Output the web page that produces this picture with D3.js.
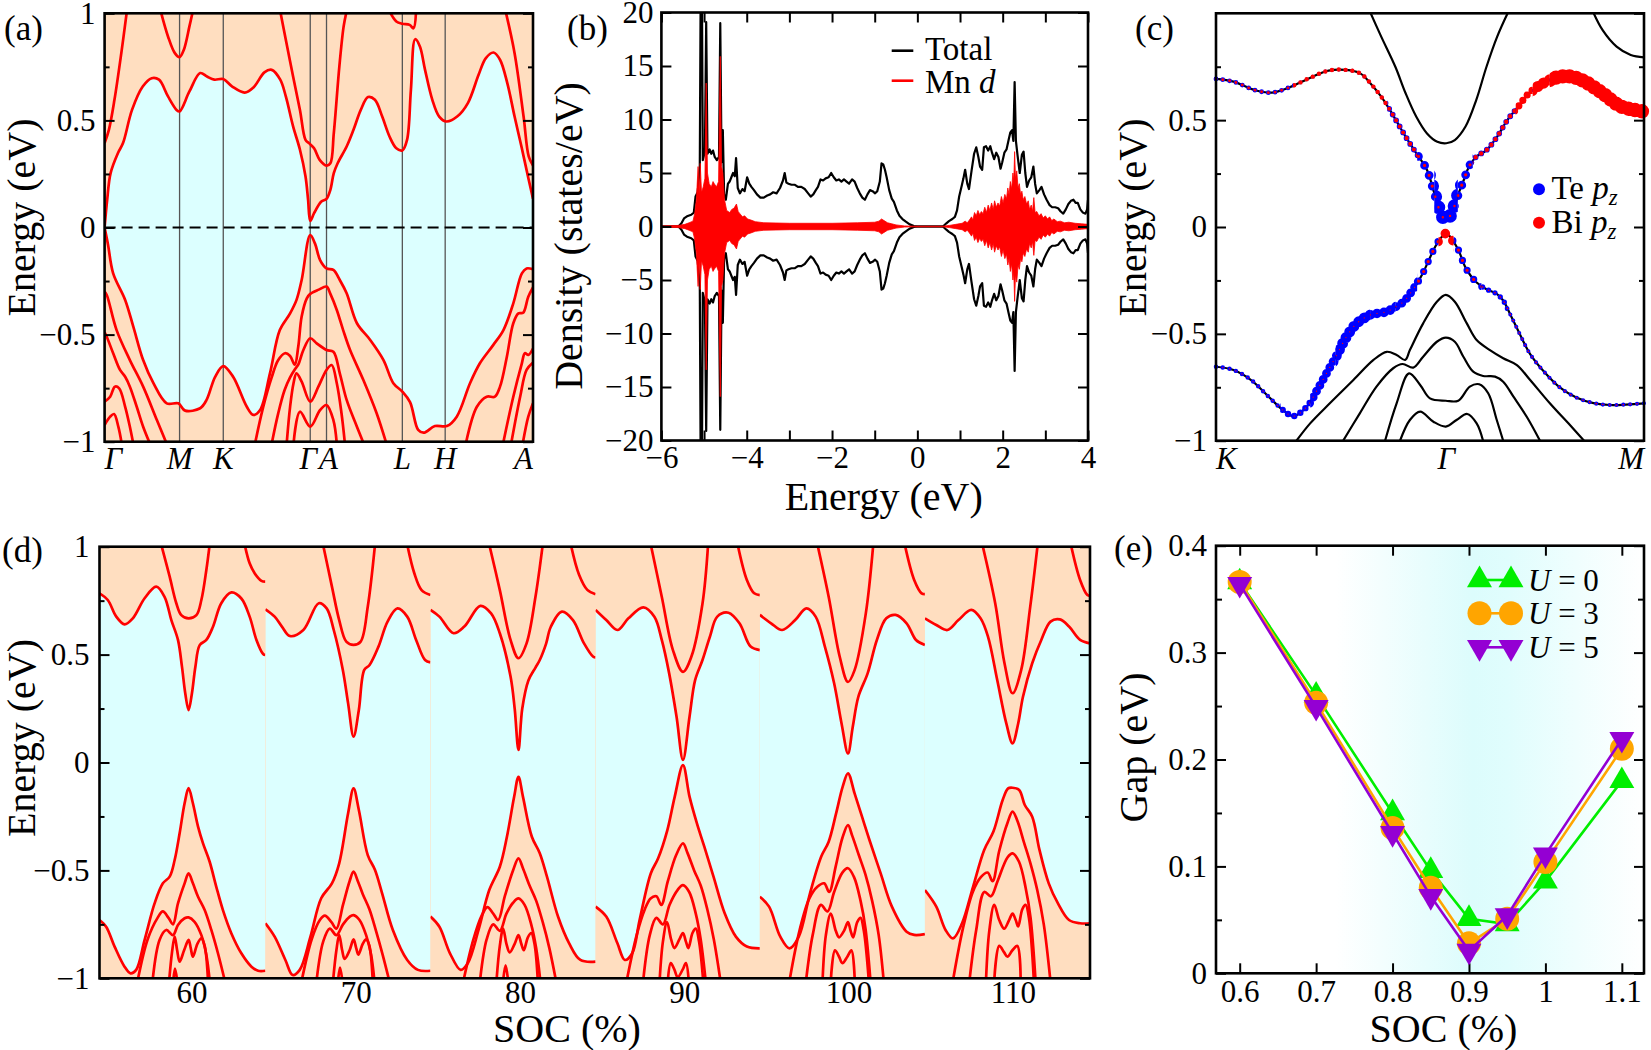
<!DOCTYPE html>
<html><head><meta charset="utf-8">
<script src="https://cdn.jsdelivr.net/npm/d3@7"></script>
<style>
body{margin:0;background:#fff;}
svg{display:block;}
svg text{font-family:"Liberation Serif","DejaVu Serif",serif;}
</style></head><body>
<svg id="fig" width="1651" height="1050"></svg>
<script>
// ================= DATA =================
// (a) band structure, k along path (fraction), E in eV
const kTicksA = [0, 0.175, 0.277, 0.480, 0.518, 0.695, 0.795, 1.0];
const kLabelsA = ["Γ","M","K","Γ","A","L","H","A"];
const aCond1 = [[0,0],[0.006,0.129],[0.014,0.254],[0.031,0.347],[0.043,0.394],[0.064,0.549],[0.089,0.658],[0.110,0.697],[0.127,0.690],[0.148,0.612],[0.168,0.549],[0.175,0.542],[0.198,0.635],[0.223,0.721],[0.239,0.705],[0.256,0.690],[0.277,0.693],[0.298,0.658],[0.327,0.630],[0.348,0.655],[0.373,0.724],[0.390,0.736],[0.410,0.690],[0.423,0.612],[0.440,0.472],[0.456,0.363],[0.469,0.238],[0.475,0.129],[0.480,0.031],[0.489,0.067],[0.506,0.121],[0.518,0.134],[0.527,0.176],[0.535,0.254],[0.544,0.300],[0.565,0.378],[0.581,0.456],[0.598,0.549],[0.615,0.609],[0.631,0.596],[0.648,0.518],[0.665,0.425],[0.681,0.370],[0.695,0.360],[0.706,0.409],[0.715,0.643],[0.725,0.879],[0.736,0.845],[0.748,0.736],[0.765,0.596],[0.781,0.518],[0.798,0.495],[0.823,0.518],[0.848,0.581],[0.873,0.713],[0.890,0.791],[0.908,0.817],[0.923,0.783],[0.940,0.674],[0.957,0.518],[0.973,0.378],[0.990,0.223],[1.0,0.134]];
const aCond2G = [[0,0.394],[0.010,0.456],[0.023,0.596],[0.039,0.814],[0.052,1.01]];
const aCond2M = [[0.131,1.01],[0.148,0.892],[0.164,0.814],[0.175,0.795],[0.185,0.830],[0.198,0.939],[0.206,1.01]];
const aCond2GA = [[0.410,1.01],[0.423,0.877],[0.440,0.705],[0.456,0.549],[0.469,0.409],[0.477,0.394],[0.489,0.370],[0.502,0.316],[0.518,0.289],[0.527,0.300],[0.535,0.440],[0.548,0.752],[0.558,0.939],[0.565,1.01]];
const aCond2L = [[0.665,1.01],[0.681,0.962],[0.695,0.951],[0.712,0.946],[0.721,0.93],[0.727,1.01]];
const aCond2A = [[0.936,1.01],[0.957,0.814],[0.978,0.518],[0.990,0.332],[1.0,0.289]];
const aVal1 = [[0,0],[0.008,-0.08],[0.020,-0.214],[0.048,-0.338],[0.067,-0.463],[0.090,-0.619],[0.114,-0.727],[0.145,-0.821],[0.172,-0.821],[0.188,-0.855],[0.223,-0.844],[0.238,-0.805],[0.258,-0.697],[0.277,-0.647],[0.300,-0.697],[0.332,-0.837],[0.347,-0.875],[0.363,-0.852],[0.386,-0.681],[0.409,-0.479],[0.433,-0.401],[0.448,-0.338],[0.460,-0.245],[0.480,-0.035],[0.491,-0.074],[0.503,-0.152],[0.518,-0.191],[0.534,-0.198],[0.549,-0.245],[0.565,-0.307],[0.589,-0.447],[0.620,-0.525],[0.651,-0.619],[0.674,-0.727],[0.695,-0.766],[0.713,-0.815],[0.732,-0.945],[0.745,-0.958],[0.771,-0.927],[0.799,-0.927],[0.822,-0.883],[0.853,-0.727],[0.876,-0.634],[0.907,-0.549],[0.931,-0.479],[0.954,-0.354],[0.974,-0.214],[0.985,-0.191],[1.0,-0.195]];
const aVal2L = [[0,-0.30],[0.005,-0.315],[0.028,-0.479],[0.059,-0.619],[0.090,-0.743],[0.122,-0.899],[0.145,-1.01]];
const aVal3L = [[0,-0.49],[0.005,-0.510],[0.020,-0.587],[0.036,-0.665],[0.048,-0.697],[0.059,-0.743],[0.075,-0.837],[0.090,-0.930],[0.106,-1.01]];
const aVal4L = [[0,-0.813],[0.013,-0.790],[0.024,-0.743],[0.034,-0.751],[0.048,-0.837],[0.059,-0.930],[0.067,-1.01]];
const aVal5L = [[0,-0.922],[0.013,-0.883],[0.022,-0.871],[0.032,-0.930],[0.040,-1.01]];
const aVal2G = [[0.351,-1.01],[0.37,-0.84],[0.39,-0.70],[0.405,-0.62],[0.421,-0.587],[0.433,-0.60],[0.444,-0.64],[0.452,-0.557],[0.460,-0.416],[0.472,-0.331],[0.480,-0.31],[0.50,-0.29],[0.518,-0.276],[0.527,-0.31],[0.542,-0.385],[0.557,-0.48],[0.573,-0.572],[0.604,-0.712],[0.635,-0.867],[0.658,-1.01]];
const aVal3G = [[0.390,-1.01],[0.405,-0.87],[0.42,-0.76],[0.433,-0.70],[0.445,-0.66],[0.452,-0.64],[0.464,-0.572],[0.480,-0.517],[0.495,-0.541],[0.518,-0.572],[0.534,-0.580],[0.549,-0.681],[0.565,-0.805],[0.589,-0.93],[0.605,-1.01]];
const aVal4G = [[0.425,-1.01],[0.433,-0.837],[0.441,-0.727],[0.448,-0.681],[0.46,-0.72],[0.480,-0.813],[0.499,-0.743],[0.518,-0.665],[0.530,-0.642],[0.542,-0.727],[0.553,-0.867],[0.561,-1.01]];
const aVal5G = [[0.441,-1.01],[0.456,-0.860],[0.480,-0.930],[0.503,-0.852],[0.518,-0.829],[0.534,-0.899],[0.542,-1.01]];
const aVal2R = [[0.842,-1.02],[0.869,-0.837],[0.892,-0.790],[0.911,-0.790],[0.923,-0.743],[0.939,-0.603],[0.954,-0.447],[0.966,-0.401],[0.977,-0.398],[0.989,-0.323],[1.0,-0.28]];
const aVal3R = [[0.929,-1.02],[0.954,-0.790],[0.974,-0.634],[0.981,-0.587],[0.989,-0.595],[1.0,-0.565]];
const aVal4R = [[0.948,-1.02],[0.970,-0.790],[0.985,-0.665],[1.0,-0.63]];
const aVal5R = [[0.975,-1.02],[0.989,-0.883],[1.0,-0.82]];

// (b) density of states [E, states/eV] (spin up; spin down mirrored)
const dosTotal = [[-6,0],[-5.6,0],[-5.53,0.3],[-5.47,0.75],[-5.40,0.95],[-5.30,1.1],[-5.24,1.3],[-5.20,2.8],[-5.15,3.2],[-5.10,5.5],[-5.08,22],[-5.05,22],[-5.03,6.2],[-4.98,7.0],[-4.95,19.1],[-4.92,6.8],[-4.87,7.2],[-4.83,6.8],[-4.79,7.1],[-4.75,6.5],[-4.70,6.2],[-4.65,6.5],[-4.62,19.0],[-4.59,6.0],[-4.56,9.0],[-4.53,3.0],[-4.49,2.5],[-4.44,4.0],[-4.40,4.2],[-4.36,4.6],[-4.32,5.0],[-4.28,4.7],[-4.25,6.4],[-4.21,3.6],[-4.16,3.1],[-4.10,3.5],[-4.05,3.3],[-3.99,4.6],[-3.94,4.0],[-3.89,3.7],[-3.83,3.4],[-3.76,3.0],[-3.68,2.7],[-3.60,2.7],[-3.52,2.9],[-3.45,3.0],[-3.38,3.2],[-3.30,3.1],[-3.22,3.6],[-3.15,4.3],[-3.11,5.0],[-3.07,4.1],[-3.02,4.0],[-2.95,3.9],[-2.87,3.9],[-2.80,3.7],[-2.72,3.7],[-2.64,3.5],[-2.56,3.1],[-2.50,2.8],[-2.44,3.0],[-2.38,3.4],[-2.33,3.7],[-2.27,4.4],[-2.21,4.3],[-2.15,4.5],[-2.08,4.6],[-2.02,5.0],[-1.96,4.6],[-1.90,4.3],[-1.84,4.4],[-1.78,4.2],[-1.72,4.4],[-1.66,4.2],[-1.60,4.0],[-1.53,4.4],[-1.47,4.2],[-1.41,3.6],[-1.35,3.1],[-1.29,2.7],[-1.23,2.5],[-1.17,3.0],[-1.11,3.4],[-1.05,3.3],[-0.99,3.1],[-0.94,3.3],[-0.88,4.2],[-0.84,5.9],[-0.80,5.8],[-0.76,5.3],[-0.72,4.6],[-0.66,3.4],[-0.60,2.6],[-0.55,2.3],[-0.48,1.5],[-0.42,1.0],[-0.35,0.7],[-0.27,0.45],[-0.18,0.2],[-0.08,0.05],[0,0],[0.6,0],[0.68,0.3],[0.74,0.5],[0.82,0.7],[0.88,0.9],[0.93,1.5],[0.98,2.8],[1.04,3.8],[1.08,4.5],[1.12,5.3],[1.17,4.0],[1.21,3.5],[1.27,5.2],[1.33,6.8],[1.38,7.4],[1.43,6.5],[1.47,5.6],[1.52,5.3],[1.56,7.4],[1.61,7.5],[1.66,7.1],[1.71,7.5],[1.75,6.9],[1.80,6.3],[1.85,6.9],[1.90,6.5],[1.95,5.4],[1.99,6.0],[2.04,6.9],[2.09,7.2],[2.14,8.1],[2.18,8.8],[2.22,9.0],[2.25,8.0],[2.28,13.5],[2.31,8.0],[2.35,6.6],[2.40,5.0],[2.45,6.7],[2.49,7.0],[2.53,5.0],[2.57,3.7],[2.62,4.3],[2.67,4.6],[2.72,5.6],[2.76,4.0],[2.80,3.1],[2.86,3.4],[2.91,3.7],[2.97,3.0],[3.03,2.5],[3.10,2.0],[3.16,1.8],[3.23,1.8],[3.30,1.7],[3.36,1.4],[3.42,1.2],[3.48,1.6],[3.54,2.1],[3.60,2.4],[3.66,2.5],[3.71,2.2],[3.76,2.2],[3.82,1.6],[3.88,1.3],[3.94,1.2],[3.98,1.6],[4.0,2.5]];
const dosMnD = [[-6,0.05],[-5.6,0.1],[-5.45,0.2],[-5.35,0.35],[-5.26,0.5],[-5.22,1.2],[-5.18,2.5],[-5.14,5.6],[-5.11,3.0],[-5.09,5.9],[-5.06,3.2],[-5.02,3.7],[-4.98,4.5],[-4.95,13.4],[-4.92,5.0],[-4.88,4.0],[-4.83,3.7],[-4.79,4.2],[-4.76,4.0],[-4.71,3.7],[-4.66,4.2],[-4.62,15.9],[-4.59,5.6],[-4.56,5.0],[-4.52,2.5],[-4.47,1.5],[-4.40,1.3],[-4.35,1.6],[-4.30,1.7],[-4.24,2.1],[-4.20,1.4],[-4.16,1.2],[-4.10,0.9],[-4.05,1.0],[-3.98,0.7],[-3.90,0.6],[-3.80,0.45],[-3.60,0.35],[-3.0,0.3],[-2.0,0.3],[-1.4,0.35],[-1.0,0.4],[-0.90,0.5],[-0.84,0.7],[-0.78,0.55],[-0.70,0.35],[-0.60,0.25],[-0.50,0.15],[-0.30,0.05],[-0.1,0.03],[0.6,0.03],[0.75,0.1],[0.90,0.2],[1.05,0.3],[1.12,0.5],[1.17,0.35],[1.22,0.6],[1.27,0.9],[1.30,0.6],[1.34,1.3],[1.38,1.0],[1.42,1.5],[1.46,1.1],[1.50,1.4],[1.54,1.2],[1.58,1.8],[1.62,1.3],[1.66,2.0],[1.70,1.5],[1.74,2.2],[1.78,1.6],[1.81,2.4],[1.85,1.8],[1.89,2.2],[1.93,1.9],[1.97,2.8],[2.01,2.2],[2.05,3.0],[2.09,2.6],[2.12,3.6],[2.15,3.0],[2.18,4.2],[2.21,3.5],[2.24,5.0],[2.26,4.2],[2.28,7.0],[2.30,4.5],[2.33,5.2],[2.36,3.6],[2.39,4.0],[2.42,3.0],[2.45,3.3],[2.48,2.5],[2.52,2.8],[2.56,2.1],[2.60,2.4],[2.63,1.6],[2.67,2.0],[2.70,1.4],[2.73,2.7],[2.76,1.3],[2.80,1.4],[2.85,1.0],[2.90,1.2],[2.95,0.8],[3.00,1.0],[3.05,0.7],[3.10,0.9],[3.15,0.55],[3.20,0.7],[3.28,0.45],[3.35,0.5],[3.45,0.35],[3.55,0.4],[3.70,0.3],[3.85,0.25],[4.0,0.2]];

// (c) band structure K-Γ-M with orbital projections
const kTicksC = [0, 0.538, 1.0];
const kLabelsC = ["K","Γ","M"];
const cCondProj = [[0,.693],[.041,.680],[.090,.641],[.131,.629],[.172,.654],[.222,.700],[.263,.732],[.304,.735],[.337,.719],[.361,.672],[.386,.610],[.411,.532],[.443,.423],[.468,.345],[.493,.267],[.509,.165],[.517,.111],[.525,.064],[.538,.030],[.550,.064],[.558,.103],[.567,.158],[.579,.220],[.591,.282],[.608,.329],[.632,.360],[.657,.423],[.681,.501],[.706,.563],[.731,.626],[.764,.672],[.796,.700],[.829,.704],[.862,.680],[.903,.626],[.944,.566],[.977,.548],[1,.540]];
const cValProj = [[0,-.654],[.041,-.669],[.082,-.716],[.123,-.794],[.156,-.856],[.181,-.885],[.212,-.841],[.235,-.768],[.259,-.682],[.282,-.599],[.305,-.513],[.329,-.451],[.360,-.412],[.399,-.396],[.422,-.371],[.438,-.350],[.453,-.313],[.469,-.267],[.484,-.213],[.495,-.165],[.509,-.105],[.522,-.06],[.538,-.030],[.552,-.06],[.567,-.110],[.583,-.19],[.609,-.260],[.632,-.291],[.656,-.313],[.671,-.344],[.687,-.407],[.710,-.502],[.734,-.595],[.765,-.674],[.804,-.752],[.843,-.799],[.882,-.824],[.921,-.833],[1,-.825]];
const cCond2 = [[.357,1.02],[.386,.891],[.419,.750],[.443,.626],[.468,.516],[.493,.438],[.517,.399],[.538,.392],[.558,.407],[.583,.470],[.608,.594],[.632,.750],[.657,.891],[.686,1.02]];
const cCond3 = [[.878,1.02],[.903,.922],[.936,.844],[.969,.805],[1,.794]];
const cVal2 = [[.188,-1.0],[.220,-.919],[.266,-.825],[.321,-.716],[.368,-.622],[.399,-.584],[.422,-.599],[.442,-.622],[.453,-.576],[.484,-.451],[.516,-.350],[.537,-.318],[.558,-.350],[.586,-.451],[.609,-.529],[.640,-.576],[.671,-.614],[.703,-.646],[.734,-.716],[.780,-.825],[.827,-.927],[.860,-1.0]];
const cVal3 = [[.297,-1.0],[.336,-.872],[.375,-.747],[.414,-.661],[.436,-.641],[.461,-.658],[.484,-.607],[.516,-.537],[.537,-.518],[.558,-.537],[.578,-.607],[.601,-.677],[.624,-.697],[.652,-.700],[.671,-.724],[.695,-.794],[.726,-.888],[.757,-1.0]];
const cVal4 = [[.395,-1.0],[.422,-.825],[.451,-.685],[.477,-.739],[.500,-.802],[.537,-.813],[.566,-.813],[.593,-.747],[.615,-.736],[.636,-.778],[.656,-.903],[.671,-1.0]];
const cVal5 = [[.430,-1.0],[.453,-.903],[.477,-.864],[.508,-.911],[.537,-.934],[.562,-.903],[.587,-.875],[.609,-.919],[.624,-1.0]];
// projection weights along k: [k0, k1, weight]
const wTeCond = [[0,.18,.30],[.18,.40,.24],[.40,.47,.36],[.47,.51,.55],[.51,.565,.85],[.565,.60,.55],[.60,.72,.36],[.72,1,.2]];
const wBiCond = [[0,.18,.18],[.18,.40,.28],[.40,.47,.26],[.47,.51,.2],[.51,.565,.15],[.565,.60,.2],[.60,.70,.28],[.70,.74,.45],[.74,.78,.7],[.78,1,.9]];
const wTeVal = [[0,.15,.28],[.15,.22,.4],[.22,.28,.55],[.28,.36,.68],[.36,.42,.6],[.42,.47,.55],[.47,.52,.45],[.52,.555,.3],[.555,.62,.45],[.62,.68,.33],[.68,1,.26]];
const wBiVal = [[0,.47,.08],[.47,.52,.2],[.52,.555,.6],[.555,.62,.2],[.62,1,.1]];

// (d) band structures for each SOC strength (u = K..M fraction, E)
const socEdges = [54.4, 64.5, 74.55, 84.6, 94.6, 104.65, 114.7];
const socTicks = [60, 70, 80, 90, 100, 110];
const dC1 = [
 [[0,.784],[.05,.753],[.101,.676],[.151,.640],[.201,.668],[.272,.761],[.342,.815],[.392,.768],[.433,.660],[.473,.568],[.497,.444],[.517,.320],[.537,.243],[.557,.320],[.578,.444],[.604,.544],[.644,.568],[.684,.629],[.734,.738],[.795,.788],[.855,.760],[.905,.676],[.946,.568],[.986,.503],[1,.498]],
 [[0,.710],[.056,.676],[.100,.63],[.148,.586],[.230,.614],[.323,.738],[.371,.714],[.414,.614],[.469,.429],[.501,.274],[.534,.120],[.566,.243],[.599,.429],[.631,.452],[.685,.537],[.740,.653],[.800,.714],[.859,.676],[.913,.568],[.967,.475],[1,.464]],
 [[0,.707],[.054,.676],[.140,.599],[.205,.630],[.302,.726],[.367,.691],[.420,.599],[.485,.398],[.510,.25],[.533,.058],[.556,.25],[.593,.38],[.636,.44],[.662,.475],[.700,.55],[.729,.629],[.796,.699],[.863,.660],[.930,.552],[.986,.490],[1,.487]],
 [[0,.707],[.065,.660],[.133,.614],[.200,.668],[.291,.719],[.358,.675],[.403,.568],[.448,.413],[.493,.212],[.532,.012],[.572,.212],[.606,.382],[.651,.475],[.696,.583],[.741,.676],[.809,.694],[.876,.645],[.944,.537],[1,.521]],
 [[0,.684],[.068,.645],[.135,.614],[.214,.660],[.282,.714],[.338,.676],[.394,.537],[.450,.367],[.495,.181],[.534,.042],[.563,.166],[.597,.305],[.653,.413],[.709,.568],[.766,.668],[.822,.684],[.889,.645],[.946,.568],[1,.545]],
 [[0,.668],[.069,.637],[.136,.614],[.203,.660],[.281,.707],[.337,.668],[.382,.583],[.438,.382],[.493,.181],[.531,.089],[.565,.181],[.594,.305],[.650,.460],[.705,.568],[.761,.653],[.817,.663],[.873,.630],[.940,.568],[1,.552]]];
const dC2 = [
 [[.372,1.01],[.423,.861],[.463,.738],[.493,.683],[.537,.668],[.584,.683],[.614,.753],[.644,.892],[.664,1.01]],
 [[.349,1.01],[.403,.815],[.447,.660],[.490,.560],[.534,.545],[.577,.560],[.620,.722],[.664,1.01]],
 [[.356,1.01],[.420,.799],[.485,.568],[.533,.483],[.582,.552],[.636,.768],[.680,1.01]],
 [[.336,1.01],[.403,.768],[.471,.521],[.532,.420],[.583,.490],[.651,.737],[.685,1.01]],
 [[.349,1.01],[.417,.768],[.484,.490],[.534,.373],[.574,.428],[.642,.691],[.687,1.01]],
 [[.348,1.01],[.426,.737],[.482,.460],[.531,.321],[.583,.428],[.638,.722],[.683,1.01]]];
const dC3 = [
 [[.875,1.01],[.905,.923],[.936,.876],[.976,.842],[1,.838]],
 [[.859,1.01],[.902,.877],[.946,.799],[1,.776]],
 [[.85,1.01],[.90,.87],[.95,.80],[1,.78]],
 [[.865,1.01],[.921,.846],[.966,.784],[1,.776]],
 [[.878,1.01],[.935,.846],[.980,.784],[1,.780]],
 [[.884,1.01],[.940,.846],[.984,.776],[1,.772]]];
const dV1 = [
 [[0,-.730],[.040,-.761],[.091,-.853],[.151,-.946],[.187,-.977],[.221,-.961],[.272,-.822],[.332,-.653],[.382,-.560],[.423,-.529],[.453,-.452],[.483,-.328],[.513,-.189],[.537,-.119],[.563,-.189],[.594,-.297],[.624,-.375],[.664,-.460],[.704,-.576],[.744,-.684],[.795,-.792],[.855,-.884],[.916,-.946],[.956,-.965],[1,-.965]],
 [[0,-.745],[.056,-.807],[.121,-.915],[.165,-.985],[.208,-.961],[.273,-.807],[.338,-.629],[.403,-.560],[.447,-.467],[.501,-.235],[.534,-.120],[.566,-.220],[.620,-.429],[.664,-.498],[.707,-.606],[.772,-.776],[.859,-.915],[.924,-.961],[1,-.965]],
 [[0,-.714],[.054,-.761],[.118,-.884],[.183,-.961],[.226,-.930],[.291,-.776],[.356,-.591],[.420,-.483],[.463,-.344],[.507,-.158],[.533,-.066],[.560,-.158],[.614,-.344],[.662,-.42],[.706,-.53],[.773,-.715],[.840,-.838],[.908,-.915],[1,-.923]],
 [[0,-.668],[.065,-.714],[.133,-.838],[.178,-.915],[.223,-.884],[.268,-.730],[.336,-.514],[.381,-.444],[.437,-.313],[.482,-.158],[.532,-.012],[.572,-.158],[.617,-.282],[.662,-.390],[.718,-.529],[.786,-.699],[.854,-.807],[.921,-.853],[1,-.861]],
 [[0,-.622],[.056,-.668],[.124,-.807],[.180,-.861],[.236,-.807],[.304,-.606],[.372,-.436],[.417,-.367],[.462,-.236],[.502,-.112],[.534,-.050],[.574,-.143],[.619,-.251],[.664,-.359],[.732,-.514],[.800,-.668],[.889,-.784],[.935,-.799],[1,-.795]],
 [[0,-.591],[.069,-.668],[.125,-.776],[.170,-.815],[.225,-.745],[.292,-.575],[.359,-.405],[.415,-.320],[.471,-.174],[.504,-.120],[.531,-.117],[.571,-.127],[.605,-.197],[.650,-.251],[.694,-.405],[.750,-.560],[.806,-.653],[.873,-.730],[.940,-.745],[1,-.745]]];
const dV2 = [
 [[.23,-1.01],[.29,-.82],[.35,-.72],[.382,-.69],[.416,-.72],[.443,-.75],[.473,-.653],[.513,-.56],[.537,-.514],[.563,-.56],[.594,-.622],[.634,-.684],[.674,-.776],[.714,-.884],[.755,-1.01]],
 [[.22,-1.01],[.28,-.82],[.33,-.73],[.36,-.71],[.40,-.74],[.43,-.77],[.47,-.66],[.51,-.55],[.534,-.506],[.56,-.55],[.59,-.61],[.63,-.68],[.67,-.78],[.71,-.89],[.75,-1.01]],
 [[.20,-1.01],[.26,-.82],[.31,-.71],[.345,-.67],[.38,-.70],[.41,-.73],[.45,-.62],[.50,-.50],[.533,-.444],[.56,-.49],[.60,-.57],[.64,-.64],[.68,-.74],[.72,-.86],[.76,-1.01]],
 [[.19,-1.01],[.25,-.80],[.30,-.68],[.335,-.63],[.37,-.62],[.40,-.66],[.44,-.55],[.49,-.43],[.532,-.375],[.56,-.42],[.60,-.50],[.64,-.57],[.68,-.68],[.72,-.82],[.76,-1.01]],
 [[.18,-1.01],[.24,-.78],[.30,-.63],[.35,-.575],[.39,-.56],[.42,-.60],[.46,-.48],[.50,-.35],[.534,-.29],[.56,-.34],[.60,-.43],[.64,-.52],[.68,-.64],[.72,-.80],[.75,-1.01]],
 [[.17,-1.01],[.23,-.77],[.29,-.60],[.34,-.53],[.38,-.51],[.41,-.55],[.45,-.41],[.50,-.28],[.531,-.228],[.56,-.27],[.60,-.37],[.64,-.47],[.68,-.59],[.72,-.75],[.76,-1.01]]];
const dV3 = [
 [[.32,-1.01],[.362,-.822],[.402,-.776],[.443,-.80],[.473,-.753],[.513,-.722],[.537,-.718],[.573,-.738],[.614,-.80],[.644,-.892],[.664,-1.01]],
 [[.31,-1.01],[.35,-.83],[.39,-.77],[.43,-.80],[.47,-.75],[.51,-.715],[.534,-.707],[.57,-.73],[.61,-.80],[.64,-.89],[.66,-1.01]],
 [[.30,-1.01],[.34,-.82],[.38,-.75],[.42,-.78],[.46,-.70],[.50,-.65],[.533,-.63],[.57,-.66],[.61,-.75],[.64,-.86],[.665,-1.01]],
 [[.29,-1.01],[.33,-.80],[.37,-.72],[.41,-.75],[.45,-.66],[.50,-.59],[.532,-.568],[.57,-.60],[.61,-.70],[.64,-.82],[.67,-1.01]],
 [[.28,-1.01],[.32,-.80],[.37,-.66],[.41,-.69],[.45,-.60],[.50,-.51],[.534,-.49],[.57,-.53],[.61,-.64],[.64,-.77],[.67,-1.01]],
 [[.27,-1.01],[.31,-.78],[.36,-.60],[.40,-.62],[.44,-.55],[.50,-.44],[.531,-.421],[.57,-.46],[.61,-.58],[.64,-.72],[.67,-1.01]]];
const dV4 = [
 [[.42,-1.01],[.437,-.88],[.453,-.807],[.468,-.87],[.483,-.923],[.51,-.87],[.537,-.822],[.55,-.86],[.563,-.90],[.59,-.84],[.614,-.815],[.634,-.85],[.654,-1.01]],
 [[.41,-1.01],[.43,-.87],[.447,-.80],[.465,-.87],[.48,-.91],[.51,-.87],[.534,-.82],[.55,-.86],[.563,-.89],[.59,-.84],[.61,-.82],[.63,-.85],[.65,-1.01]],
 [[.40,-1.01],[.42,-.85],[.44,-.77],[.46,-.84],[.48,-.88],[.51,-.84],[.533,-.80],[.55,-.84],[.565,-.87],[.59,-.81],[.61,-.79],[.63,-.84],[.65,-1.01]],
 [[.39,-1.01],[.41,-.83],[.435,-.74],[.46,-.82],[.48,-.86],[.51,-.82],[.532,-.79],[.55,-.83],[.565,-.86],[.59,-.79],[.61,-.77],[.63,-.83],[.655,-1.01]],
 [[.38,-1.01],[.40,-.80],[.43,-.70],[.46,-.78],[.48,-.81],[.51,-.78],[.534,-.74],[.55,-.78],[.565,-.81],[.59,-.74],[.61,-.72],[.63,-.78],[.66,-1.01]],
 [[.37,-1.01],[.39,-.78],[.42,-.66],[.45,-.73],[.48,-.77],[.51,-.73],[.531,-.70],[.55,-.73],[.565,-.76],[.59,-.68],[.61,-.66],[.63,-.72],[.66,-1.01]]];
const dV5 = [
 [[.445,-1.01],[.455,-.955],[.468,-1.01]],
 [[.44,-1.01],[.452,-.95],[.466,-1.01]],
 [[.44,-1.01],[.455,-.94],[.47,-1.01]],
 [[.44,-1.01],[.458,-.93],[.48,-.96],[.50,-.995],[.53,-.96],[.55,-.93],[.567,-1.01]],
 [[.43,-1.01],[.455,-.87],[.48,-.90],[.50,-.93],[.53,-.90],[.555,-.87],[.575,-1.01]],
 [[.42,-1.01],[.45,-.85],[.48,-.88],[.50,-.90],[.53,-.87],[.56,-.85],[.58,-1.01]]];

// (e) gap vs SOC
const socE = [0.6, 0.7, 0.8, 0.85, 0.9, 0.95, 1.0, 1.1];
const gapU0 = [0.366, 0.260, 0.150, 0.096, 0.051, 0.046, 0.086, 0.180];
const gapU3 = [0.366, 0.253, 0.136, 0.080, 0.028, 0.051, 0.104, 0.210];
const gapU5 = [0.364, 0.249, 0.131, 0.072, 0.021, 0.054, 0.111, 0.219];
const seriesE = ["U = 0", "U = 3", "U = 5"];
const xTicksE = [0.6, 0.7, 0.8, 0.9, 1.0, 1.1];
const yTicksE = [0, 0.1, 0.2, 0.3, 0.4];

// ================= DRAWING =================
const FONT = "'Liberation Serif', 'DejaVu Serif', serif";
const svg = d3.select("#fig").attr("font-family", FONT);
const defs = svg.append("defs");
const PEACH = "#ffdec0", CYAN = "#dcffff", RED = "#ff0000";
const TICKF = 31, TITLEF = 40, LETTERF = 35, LEGF = 33;
const cr = d3.curveCatmullRom.alpha(0.5);
const fmt = d3.format("~g");

function T(sel) { return sel.attr("font-family", FONT); }
function makePanel(id, x0, y0, x1, y1, xd, yd) {
  const x = d3.scaleLinear().domain(xd).range([x0, x1]);
  const y = d3.scaleLinear().domain(yd).range([y1, y0]);
  defs.append("clipPath").attr("id", "clip-" + id).append("rect")
    .attr("x", x0).attr("y", y0).attr("width", x1 - x0).attr("height", y1 - y0);
  const g = svg.append("g");
  const inner = g.append("g").attr("clip-path", `url(#clip-${id})`);
  return {id, x, y, g, inner, x0, y0, x1, y1};
}
function frame(p) {
  p.g.append("rect").attr("x", p.x0).attr("y", p.y0).attr("width", p.x1 - p.x0).attr("height", p.y1 - p.y0)
    .attr("fill", "none").attr("stroke", "#000").attr("stroke-width", 2.6);
}
function axisG(p, orient, values, len, labelled, pad) {
  const vert = orient === "left" || orient === "right";
  const s = vert ? p.y : p.x;
  const gen = {left: d3.axisLeft, right: d3.axisRight, top: d3.axisTop, bottom: d3.axisBottom}[orient];
  const ax = gen(s).tickValues(values).tickSizeInner(-len).tickSizeOuter(0).tickPadding(pad || 8)
    .tickFormat(labelled ? fmt : () => "");
  const tx = {left: `translate(${p.x0},0)`, right: `translate(${p.x1},0)`, top: `translate(0,${p.y0})`, bottom: `translate(0,${p.y1})`}[orient];
  const g = p.g.append("g").attr("transform", tx).call(ax);
  g.select(".domain").remove();
  g.attr("font-size", null).attr("font-family", FONT);
  g.selectAll(".tick line").attr("stroke", "#000").attr("stroke-width", 2);
  if (len === 0) g.selectAll(".tick line").remove();
  if (labelled) {
    T(g.selectAll(".tick text")).attr("font-size", TICKF).attr("fill", "#000");
  } else {
    g.selectAll(".tick text").remove();
  }
  return g;
}
function ytitle(x, y, txt) {
  T(svg.append("text")).attr("transform", `translate(${x},${y}) rotate(-90)`).attr("text-anchor", "middle")
    .attr("font-size", TITLEF).text(txt);
}
function xtitle(x, y, txt) {
  T(svg.append("text")).attr("x", x).attr("y", y).attr("text-anchor", "middle").attr("font-size", TITLEF).text(txt);
}
function letter(x, y, txt) {
  T(svg.append("text")).attr("x", x).attr("y", y).attr("font-size", LETTERF).text(txt);
}
function closedBetween(line, upper, lower) {
  return line(upper) + line(lower.slice().reverse()).replace(/^M/, "L") + "Z";
}

// ---------- (a) ----------
const A = makePanel("a", 104.6, 13.3, 533, 441.7, [0, 1], [-1, 1]);
const lnA = d3.line().x(d => A.x(d[0])).y(d => A.y(d[1])).curve(cr);
A.inner.append("rect").attr("x", A.x0).attr("y", A.y0).attr("width", A.x1 - A.x0).attr("height", A.y1 - A.y0).attr("fill", PEACH);
A.inner.append("path").attr("d", closedBetween(lnA, aCond1, aVal1)).attr("fill", CYAN);
kTicksA.slice(1, -1).forEach(k => {
  A.inner.append("line").attr("x1", A.x(k)).attr("x2", A.x(k)).attr("y1", A.y0).attr("y2", A.y1)
    .attr("stroke", "#555").attr("stroke-width", 1.3);
});
A.inner.append("line").attr("x1", A.x0).attr("x2", A.x1).attr("y1", A.y(0)).attr("y2", A.y(0))
  .attr("stroke", "#000").attr("stroke-width", 2).attr("stroke-dasharray", "11,6");
[aCond1, aCond2G, aCond2M, aCond2GA, aCond2L, aCond2A, aVal1, aVal2L, aVal3L, aVal4L, aVal5L,
 aVal2G, aVal3G, aVal4G, aVal5G, aVal2R, aVal3R, aVal4R, aVal5R].forEach(b => {
  A.inner.append("path").attr("d", lnA(b)).attr("fill", "none").attr("stroke", RED).attr("stroke-width", 2.7);
});
frame(A);
axisG(A, "left", [-1, -0.5, 0, 0.5, 1], 10, true, 9);
axisG(A, "left", [-0.75, -0.25, 0.25, 0.75], 5, false);
axisG(A, "right", [-1, -0.5, 0, 0.5, 1], 10, false);
axisG(A, "right", [-0.75, -0.25, 0.25, 0.75], 5, false);
kTicksA.forEach((k, i) => {
  const anchor = i === 0 ? "start" : (i === kTicksA.length - 1 ? "end" : "middle");
  let xx = A.x(k);
  if (i === 3) xx -= 2; if (i === 4) xx += 2;
  T(svg.append("text")).attr("x", xx).attr("y", 469).attr("text-anchor", anchor).attr("font-size", TICKF)
    .attr("font-style", "italic").text(kLabelsA[i]);
});
ytitle(35, 217.5, "Energy (eV)");
letter(4, 40, "(a)");

// ---------- (b) ----------
const B = makePanel("b", 661.4, 12.5, 1088, 440.5, [-6, 4], [-20, 20]);
const lnBup = d3.line().x(d => B.x(d[0])).y(d => B.y(d[1]));
const lnBdn = d3.line().x(d => B.x(d[0])).y(d => B.y(-d[1]));
B.inner.append("path").attr("d", lnBup(dosTotal)).attr("fill", "none").attr("stroke", "#000").attr("stroke-width", 2.2).attr("stroke-linejoin", "round");
B.inner.append("path").attr("d", lnBdn(dosTotal)).attr("fill", "none").attr("stroke", "#000").attr("stroke-width", 2.2).attr("stroke-linejoin", "round");
const arB = d3.area().x(d => B.x(d[0])).y0(d => B.y(-d[1])).y1(d => B.y(d[1]));
B.inner.append("path").attr("d", arB(dosMnD)).attr("fill", RED).attr("stroke", RED).attr("stroke-width", 0.8);
frame(B);
axisG(B, "left", [-20, -15, -10, -5, 0, 5, 10, 15, 20], 10, true, 8);
axisG(B, "right", [-20, -15, -10, -5, 0, 5, 10, 15, 20], 10, false);
axisG(B, "bottom", [-6, -4, -2, 0, 2, 4], 10, true, 5);
axisG(B, "bottom", [-5, -3, -1, 1, 3], 10, false);
axisG(B, "top", [-6, -5, -4, -3, -2, -1, 0, 1, 2, 3, 4], 10, false);
xtitle(883.7, 510, "Energy (eV)");
ytitle(582, 236, "Density (states/eV)");
letter(567, 40, "(b)");
[["#000", "Total", 50.7], [RED, "Mn", 80.7]].forEach(([c, t, yy], i) => {
  svg.append("line").attr("x1", 891.7).attr("x2", 913.3).attr("y1", yy).attr("y2", yy).attr("stroke", c).attr("stroke-width", 2.6);
  const tx = T(svg.append("text")).attr("x", 925).attr("y", yy + (i === 0 ? 9 : 12)).attr("font-size", LEGF).text(t);
  if (i === 1) tx.append("tspan").attr("font-style", "italic").text(" d");
});

// ---------- (c) ----------
const C = makePanel("c", 1216, 13.3, 1644, 440.7, [0, 1], [-1, 1]);
const lnC = d3.line().x(d => C.x(d[0])).y(d => C.y(d[1])).curve(cr);
[cCond2, cCond3, cVal2, cVal3, cVal4, cVal5, cCondProj, cValProj].forEach(b => {
  C.inner.append("path").attr("d", lnC(b)).attr("fill", "none").attr("stroke", "#000").attr("stroke-width", 2.2);
});
const RMAX = 8;
function dotted(band, weights, color, tag) {
  weights.forEach((w, i) => {
    const cid = `cw-${tag}-${i}`;
    const xa = C.x(w[0]) - (w[0] === 0 ? 12 : 0), xb = C.x(w[1]) + (w[1] === 1 ? 12 : 0);
    defs.append("clipPath").attr("id", cid).append("rect").attr("x", xa).attr("y", C.y0 - 20)
      .attr("width", xb - xa).attr("height", C.y1 - C.y0 + 40);
    const mid = (w[0] + w[1]) / 2;
    const gap = (mid > 0.465 && mid < 0.62) ? 11 : 6.8;
    C.g.append("path").attr("clip-path", `url(#${cid})`).attr("d", lnC(band)).attr("fill", "none")
      .attr("stroke", color).attr("stroke-width", 2 * RMAX * w[2]).attr("stroke-linecap", "round")
      .attr("stroke-dasharray", `0 ${gap}`);
  });
}
dotted(cCondProj, wTeCond, "#0000ff", "tc");
dotted(cValProj, wTeVal, "#0000ff", "tv");
dotted(cCondProj, wBiCond, RED, "bc");
dotted(cValProj, wBiVal, RED, "bv");
frame(C);
axisG(C, "left", [-1, -0.5, 0, 0.5], 10, true, 9);
axisG(C, "left", [-0.75, -0.25, 0.25, 0.75], 5, false);
axisG(C, "right", [-1, -0.5, 0, 0.5, 1], 10, false);
axisG(C, "right", [-0.75, -0.25, 0.25, 0.75], 5, false);
kTicksC.forEach((k, i) => {
  const anchor = i === 0 ? "start" : (i === kTicksC.length - 1 ? "end" : "middle");
  T(svg.append("text")).attr("x", C.x(k)).attr("y", 469).attr("text-anchor", anchor).attr("font-size", TICKF)
    .attr("font-style", "italic").text(kLabelsC[i]);
});
ytitle(1146, 217.5, "Energy (eV)");
letter(1135, 40, "(c)");
[["#0000ff", "Te", 189.3], [RED, "Bi", 222.7]].forEach(([c, t, yy]) => {
  svg.append("circle").attr("cx", 1539).attr("cy", yy).attr("r", 6).attr("fill", c);
  const tx = T(svg.append("text")).attr("x", 1551.5).attr("y", yy + 10).attr("font-size", LEGF).text(t + " ");
  tx.append("tspan").attr("font-style", "italic").text("p");
  tx.append("tspan").attr("font-style", "italic").attr("font-size", 23).attr("dy", 6).text("z");
});

// ---------- (d) ----------
const D = makePanel("d", 99.5, 546.7, 1090, 978.3, [socEdges[0], socEdges[6]], [-1, 1]);
D.inner.append("rect").attr("x", D.x0).attr("y", D.y0).attr("width", D.x1 - D.x0).attr("height", D.y1 - D.y0).attr("fill", PEACH);
for (let i = 0; i < 6; i++) {
  const s0 = socEdges[i], s1 = socEdges[i + 1];
  const cid = "seg-" + i;
  defs.append("clipPath").attr("id", cid).append("rect").attr("x", D.x(s0)).attr("y", D.y0)
    .attr("width", D.x(s1) - D.x(s0)).attr("height", D.y1 - D.y0);
  const sg = D.inner.append("g").attr("clip-path", `url(#${cid})`);
  const ln = d3.line().x(d => D.x(s0 + d[0] * (s1 - s0))).y(d => D.y(d[1])).curve(cr);
  sg.append("path").attr("d", closedBetween(ln, dC1[i], dV1[i])).attr("fill", CYAN);
  [dC1[i], dC2[i], dC3[i], dV1[i], dV2[i], dV3[i], dV4[i], dV5[i]].forEach(b => {
    sg.append("path").attr("d", ln(b)).attr("fill", "none").attr("stroke", RED).attr("stroke-width", 2.7);
  });
}
frame(D);
axisG(D, "left", [-1, -0.5, 0, 0.5, 1], 10, true, 10);
axisG(D, "left", [-0.75, -0.25, 0.25, 0.75], 5, false);
axisG(D, "right", [-1, -0.5, 0, 0.5, 1], 10, false);
axisG(D, "right", [-0.75, -0.25, 0.25, 0.75], 5, false);
axisG(D, "bottom", socTicks, 0, true, 3);
xtitle(567, 1042, "SOC (%)");
ytitle(35, 738, "Energy (eV)");
letter(2, 562, "(d)");

// ---------- (e) ----------
const E = makePanel("e", 1216, 545.7, 1644, 973.3, [0.569, 1.129], [0, 0.4]);
const grad = defs.append("linearGradient").attr("id", "gradE").attr("x1", 0).attr("x2", 1).attr("y1", 0).attr("y2", 0);
[[0, "#ffffff"], [0.28, "#ffffff"], [0.6, "#dcfcfc"], [0.68, "#e0fdfd"], [1, "#ffffff"]].forEach(([o, c]) => {
  grad.append("stop").attr("offset", o).attr("stop-color", c);
});
E.inner.append("rect").attr("x", E.x0).attr("y", E.y0).attr("width", E.x1 - E.x0).attr("height", E.y1 - E.y0).attr("fill", "url(#gradE)");
frame(E);
axisG(E, "left", yTicksE, 10, true, 9);
axisG(E, "left", [0.05, 0.15, 0.25, 0.35], 6, false);
axisG(E, "right", yTicksE, 10, false);
axisG(E, "right", [0.05, 0.15, 0.25, 0.35], 6, false);
axisG(E, "bottom", xTicksE, 10, true, 7);
axisG(E, "top", xTicksE, 10, false);
const colsE = ["#00ee00", "#ffa500", "#9400d3"];
const symE = [d3.symbol().type(d3.symbolTriangle).size(270), d3.symbol().type(d3.symbolCircle).size(452), d3.symbol().type(d3.symbolTriangle).size(270)];
const rotE = [0, 0, 180];
[gapU0, gapU3, gapU5].forEach((gs, si) => {
  const pts = socE.map((s, j) => [s, gs[j]]);
  const ln = d3.line().x(d => E.x(d[0])).y(d => E.y(d[1]));
  E.g.append("path").attr("d", ln(pts)).attr("fill", "none").attr("stroke", colsE[si]).attr("stroke-width", 2.6);
  pts.forEach(d => {
    E.g.append("path").attr("d", symE[si]()).attr("fill", colsE[si])
      .attr("transform", `translate(${E.x(d[0])},${E.y(d[1])}) rotate(${rotE[si]})`);
  });
});
[580, 613.3, 647.3].forEach((yy, si) => {
  svg.append("line").attr("x1", 1479.5).attr("x2", 1511).attr("y1", yy).attr("y2", yy).attr("stroke", colsE[si]).attr("stroke-width", 2.6);
  [1479.5, 1511].forEach(xx => {
    svg.append("path").attr("d", symE[si]()).attr("fill", colsE[si]).attr("transform", `translate(${xx},${yy}) rotate(${rotE[si]})`);
  });
  const parts = seriesE[si].split(" ");
  const tx = T(svg.append("text")).attr("x", 1528).attr("y", yy + 11).attr("font-size", TICKF);
  tx.append("tspan").attr("font-style", "italic").text(parts[0]);
  tx.append("tspan").text(" " + parts[1] + " " + parts[2]);
});
xtitle(1443.5, 1042, "SOC (%)");
ytitle(1147, 747.5, "Gap (eV)");
letter(1114, 560, "(e)");
</script>
</body></html>
